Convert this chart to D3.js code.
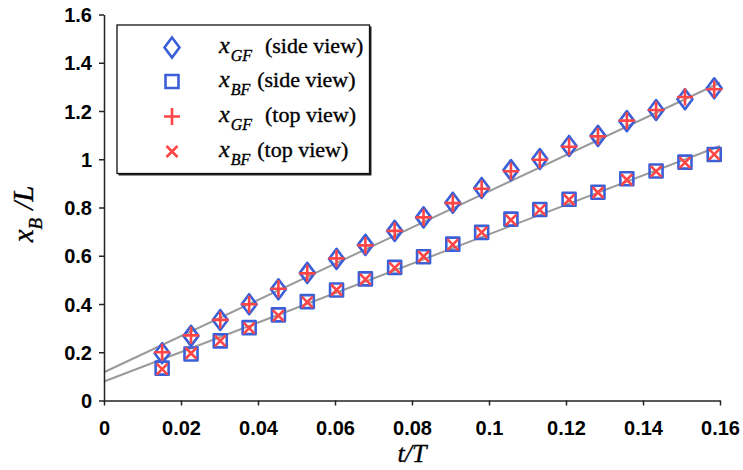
<!DOCTYPE html>
<html>
<head>
<meta charset="utf-8">
<script src="https://cdn.jsdelivr.net/npm/d3@7"></script>
<style>
  body { margin: 0; background: #fff; }
  svg { display: block; }
</style>
</head>
<body>
<div id="chart"></div>
<script>
// données
const tValues = [0.0151, 0.0226, 0.0302, 0.0377, 0.0453, 0.0528, 0.0604, 0.0679, 0.0755, 0.0830,
                 0.0906, 0.0981, 0.1057, 0.1132, 0.1208, 0.1283, 0.1358, 0.1434, 0.1509, 0.1585];
const xGFside = [0.196, 0.268, 0.334, 0.399, 0.461, 0.529, 0.587, 0.645, 0.703, 0.759,
                 0.820, 0.881, 0.955, 1.001, 1.055, 1.097, 1.158, 1.204, 1.249, 1.294];
const xBFside = [0.134, 0.193, 0.247, 0.302, 0.355, 0.410, 0.458, 0.504, 0.552, 0.596,
                 0.648, 0.697, 0.752, 0.792, 0.834, 0.863, 0.919, 0.951, 0.988, 1.020];
const xGFtop  = [0.200, 0.270, 0.334, 0.399, 0.463, 0.527, 0.589, 0.643, 0.703, 0.759,
                 0.818, 0.878, 0.950, 0.998, 1.052, 1.095, 1.160, 1.204, 1.258, 1.290];
const xBFtop  = [0.130, 0.196, 0.247, 0.300, 0.352, 0.408, 0.458, 0.502, 0.550, 0.597,
                 0.646, 0.697, 0.748, 0.790, 0.832, 0.862, 0.915, 0.950, 0.986, 1.020];
// droites de tendance (extrémités)
const fitGF = [[0, 0.117], [0.16, 1.317]];
const fitBF = [[0, 0.079], [0.16, 1.055]];

const xTicks = [0, 0.02, 0.04, 0.06, 0.08, 0.1, 0.12, 0.14, 0.16];
const xTickLabels = ["0", "0.02", "0.04", "0.06", "0.08", "0.1", "0.12", "0.14", "0.16"];
const yTicks = [0, 0.2, 0.4, 0.6, 0.8, 1, 1.2, 1.4, 1.6];
const yTickLabels = ["0", "0.2", "0.4", "0.6", "0.8", "1", "1.2", "1.4", "1.6"];

const legendSubs = ["GF", "BF", "GF", "BF"];
const legendViews = ["(side view)", "(side view)", "(top view)", "(top view)"];

const width = 743, height = 470;
const marginLeft = 104, marginRight = 23, marginTop = 14.5, marginBottom = 69.5;
const blue = "#3b5fd6", red = "#ff4545", grey = "#9a9a9a";

const x = d3.scaleLinear().domain([0, 0.16]).range([marginLeft, width - marginRight]);
const y = d3.scaleLinear().domain([0, 1.6]).range([height - marginBottom, marginTop]);

const svg = d3.select("#chart").append("svg")
    .attr("width", width)
    .attr("height", height);

// droites
const line = d3.line().x(d => x(d[0])).y(d => y(d[1]));
[fitGF, fitBF].forEach(f => {
    svg.append("path")
        .attr("d", line(f))
        .attr("fill", "none")
        .attr("stroke", grey)
        .attr("stroke-width", 2);
});

// axes
const xAxis = svg.append("g")
    .attr("transform", `translate(0,${y(0)})`)
    .call(d3.axisBottom(x).tickValues(xTicks).tickFormat((d, i) => xTickLabels[i]).tickSize(5).tickSizeOuter(0).tickPadding(15));
const yAxis = svg.append("g")
    .attr("transform", `translate(${x(0)},0)`)
    .call(d3.axisLeft(y).tickValues(yTicks).tickFormat((d, i) => yTickLabels[i]).tickSize(5).tickSizeOuter(0).tickPadding(7));
[xAxis, yAxis].forEach(g => {
    g.selectAll("path, line").attr("stroke", "#222").attr("stroke-width", 1.5);
    g.selectAll("text")
        .attr("fill", "#000")
        .style("font-family", "'Liberation Sans', Arial, sans-serif")
        .style("font-weight", "bold")
        .style("font-size", "20px");
});
yAxis.selectAll("text").attr("dy", "0.36em");

// symboles
const diamond = "M0,-10L7.5,0L0,10L-7.5,0Z";
const square = "M-6.5,-6.5H6.5V6.5H-6.5Z";
const plus = "M-8,0H8M0,-8.5V8.5";
const cross = "M-5.5,-5.5L5.5,5.5M-5.5,5.5L5.5,-5.5";

function drawMarks(values, shape, color, fill) {
    svg.append("g")
        .selectAll("path")
        .data(values)
        .join("path")
        .attr("transform", (d, i) => `translate(${x(tValues[i])},${y(d)})`)
        .attr("d", shape)
        .attr("fill", fill)
        .attr("stroke", color)
        .attr("stroke-width", 2.6)
        .attr("stroke-linejoin", "round");
}
drawMarks(xGFside, diamond, blue, "none");
drawMarks(xBFside, square, blue, "none");
drawMarks(xGFtop, plus, red, "none");
drawMarks(xBFtop, cross, red, "none");

// légende
const leg = svg.append("g");
leg.append("rect").attr("x", 118.5).attr("y", 26.5).attr("width", 253).attr("height", 149).attr("fill", "#222");
leg.append("rect").attr("x", 117).attr("y", 25).attr("width", 252.5).attr("height", 148.5)
    .attr("fill", "#fff").attr("stroke", "#111").attr("stroke-width", 1.3);
const legShapes = [[diamond, blue], [square, blue], [plus, red], [cross, red]];
const rowY = [47.5, 81.5, 116.5, 151.5];
legShapes.forEach((s, i) => {
    leg.append("path")
        .attr("transform", `translate(172,${rowY[i]})`)
        .attr("d", s[0])
        .attr("fill", "none")
        .attr("stroke", s[1])
        .attr("stroke-width", 2.6);
    const t = leg.append("text")
        .attr("x", 219)
        .attr("y", rowY[i] + 5)
        .style("font-family", "'Liberation Serif', 'Times New Roman', serif")
        .style("font-size", "24px")
        .style("stroke", "#000").style("stroke-width", 0.35)
        .attr("fill", "#000");
    t.append("tspan").style("font-style", "italic").text("x");
    t.append("tspan").style("font-style", "italic").style("font-size", "16px").attr("dy", 8).attr("dx", 1).text(legendSubs[i]);
    t.append("tspan").style("font-size", "22px").attr("dy", -8).attr("dx", legendSubs[i] === "GF" ? 13 : 7).text(legendViews[i]);
});

// titres des axes
svg.append("text")
    .attr("x", x(0.08))
    .attr("y", 462)
    .attr("text-anchor", "middle")
    .style("font-family", "'Liberation Serif', 'Times New Roman', serif")
    .style("font-style", "italic")
    .style("font-size", "26px")
    .style("stroke", "#000").style("stroke-width", 0.35)
    .text("t/T");

const yt = svg.append("text")
    .attr("transform", "translate(33,214) rotate(-90)")
    .attr("text-anchor", "middle")
    .style("font-family", "'Liberation Serif', 'Times New Roman', serif")
    .style("font-style", "italic")
    .style("font-size", "29px")
    .style("stroke", "#000").style("stroke-width", 0.35);
yt.append("tspan").text("x");
yt.append("tspan").style("font-size", "19px").attr("dy", 9).text("B");
yt.append("tspan").attr("dy", -9).attr("dx", 8).text("/L");
</script>
</body>
</html>
